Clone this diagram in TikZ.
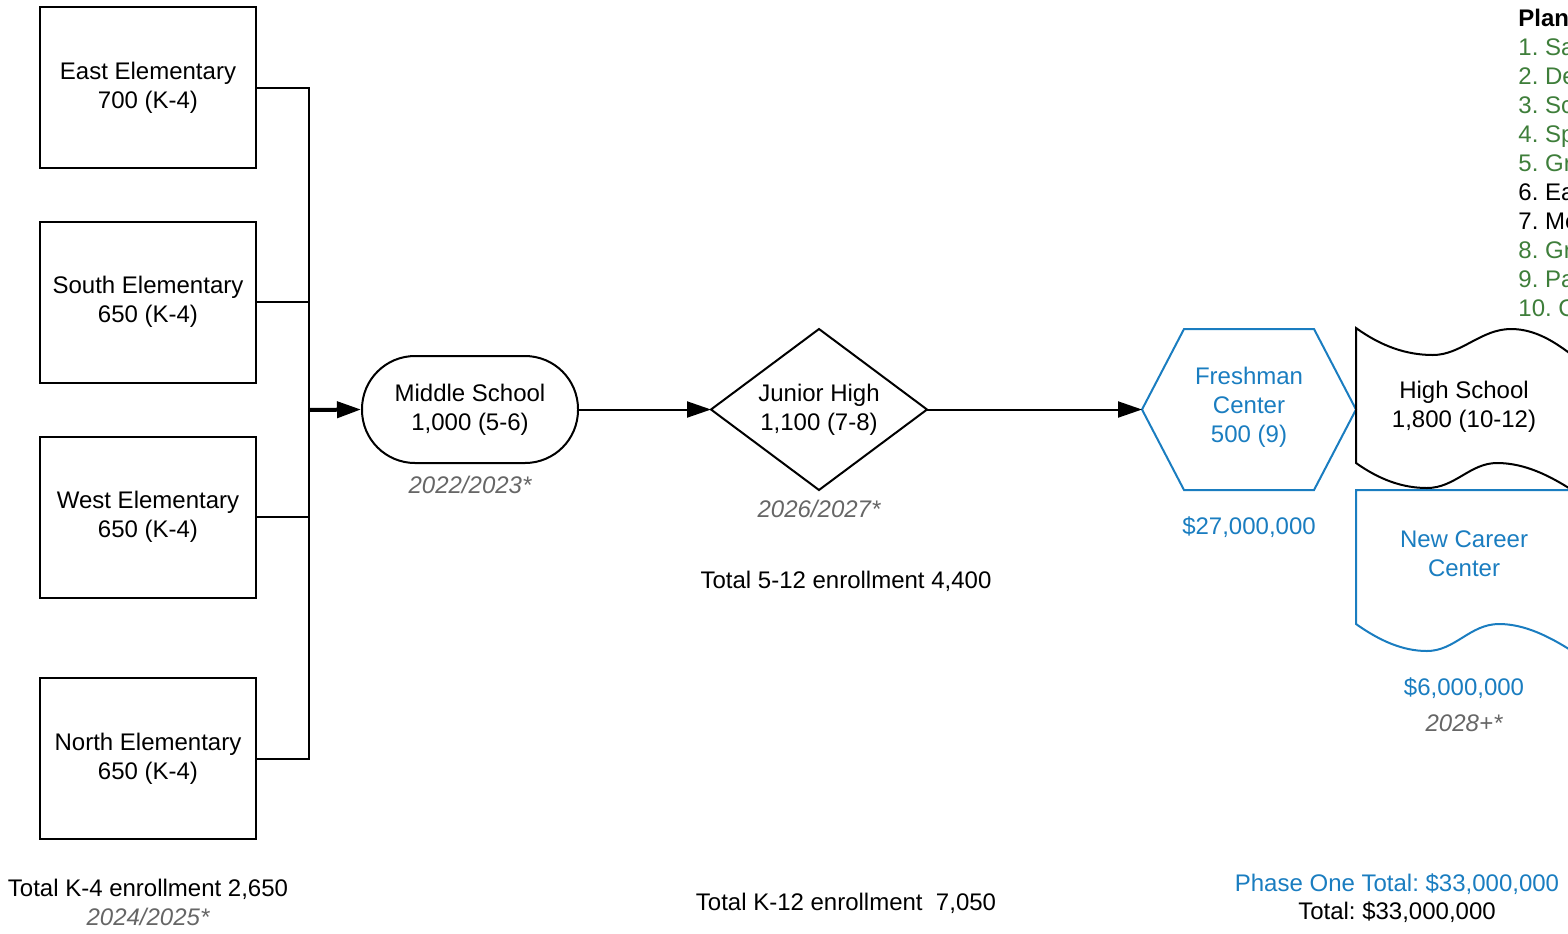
\documentclass[tikz,border=0pt]{standalone}
\usepackage{fontspec}
\setmainfont{Liberation Sans}
\usetikzlibrary{arrows.meta}
\definecolor{lblue}{HTML}{1A7DC0}
\definecolor{lgreen}{HTML}{3E7E3A}
\definecolor{lgray}{HTML}{666666}
\frenchspacing
\begin{document}
\begin{tikzpicture}[x=0.5pt,y=-0.5pt,
  txt/.style={font=\fontsize{12}{14.5}\selectfont, align=center, inner sep=0pt},
  box/.style={txt, draw, line width=1pt, minimum width=108pt, minimum height=80.5pt},
  conn/.style={line width=1pt, -{Triangle[length=12pt,width=8pt]}},
  plain/.style={line width=1pt},
  note/.style={txt, text=lgray, font=\fontsize{12}{14.5}\selectfont\itshape},
  bluetxt/.style={txt, text=lblue},
  legend/.style={font=\fontsize{12}{14.5}\selectfont, anchor=base west, inner sep=0pt}
]
\useasboundingbox (0,0) rectangle (1568,933);
\clip (0,0) rectangle (1568,933);

% elementary schools
\node[box] (east)  at (148,87.5)  {East Elementary\\700 (K-4)};
\node[box] (south) at (148,302)   {South Elementary\\650 (K-4)};
\node[box] (west)  at (148,517)   {West Elementary\\650 (K-4)};
\node[box] (north) at (148,758.5) {North Elementary\\650 (K-4)};
\coordinate (j) at (309,410);

% middle school
\node[txt, draw, line width=1pt, rectangle, rounded corners=26.5pt,
      minimum width=108pt, minimum height=53.5pt] (ms) at (470,409.5) {Middle School\\1,000 (5-6)};

\draw[plain] (east.east) -| (j);
\draw[plain] (south.east) -| (j);
\draw[plain] (west.east) -| (j);
\draw[plain] (north.east) -| (j);
\draw[conn, line width=2pt] (j) -- (ms.west);

% junior high diamond
\coordinate (jhW) at (711,409.5);
\coordinate (jhN) at (819,329);
\coordinate (jhE) at (927,409.5);
\coordinate (jhS) at (819,490);
\draw[plain] (jhW) -- (jhN) -- (jhE) -- (jhS) -- cycle;
\node[txt] (jh) at (819,409.5) {Junior High\\1,100 (7-8)};
\draw[conn] (ms.east) -- (jhW);

% freshman center hexagon
\coordinate (fcW) at (1142,409.5);
\draw[plain, draw=lblue] (fcW) -- (1184,329) -- (1314,329) -- (1356,409.5) -- (1314,490) -- (1184,490) -- cycle;
\node[bluetxt] (fc) at (1249,407) {Freshman\\Center\\500 (9)};
\draw[conn] (jhE) -- (fcW);

% career center
\draw[plain, draw=lblue] (1356,490) -- (1572,490) -- (1572,651)
  .. controls (1550,637) and (1525,624) .. (1499,624)
  .. controls (1470,624) and (1455,651) .. (1427,651)
  .. controls (1403,651) and (1380,641) .. (1356,624) -- cycle;
\node[bluetxt] (cc) at (1464,554) {New Career\\Center};

% high school
\draw[plain] (1356,328)
  .. controls (1381,346) and (1406,355) .. (1433,355)
  .. controls (1461,355) and (1481,329) .. (1511,329)
  .. controls (1536,329) and (1556,343) .. (1572,355)
  -- (1572,490)
  .. controls (1550,476) and (1525,463) .. (1497,463)
  .. controls (1470,463) and (1455,488) .. (1427,488)
  .. controls (1403,488) and (1380,480) .. (1356,463) -- cycle;
\node[txt] (hs) at (1464,407) {High School\\1,800 (10-12)};

% labels
\node[note] (d1) at (470,485) {2022/2023*};
\node[note] (d2) at (819,509) {2026/2027*};
\node[bluetxt] (c1) at (1249,527) {\$27,000,000};
\node[txt] (t512) at (846,581) {Total 5-12 enrollment 4,400};
\node[bluetxt] (c2) at (1464,688) {\$6,000,000};
\node[note] (d3) at (1464,723) {2028+*};
\node[txt] (tk4) at (148,889) {Total K-4 enrollment 2,650};
\node[note] (d4) at (148,917) {2024/2025*};
\node[txt] (tk12) at (846,903) {Total K-12 enrollment~ 7,050};
\node[bluetxt] (p1) at (1397,884) {Phase One Total: \$33,000,000};
\node[txt] (tot) at (1397,912) {Total: \$33,000,000};

% plan legend (cut off at the right edge)
\node[legend, font=\fontsize{12}{14.5}\selectfont\bfseries] (plan) at (1518,26.5) {Plan};
\node[legend, text=lgreen] (l1) at (1518,55.5) {1. Sa};
\node[legend, text=lgreen] (l2) at (1518,84.5) {2. De};
\node[legend, text=lgreen] (l3) at (1518,113.5) {3. Sc};
\node[legend, text=lgreen] (l4) at (1518,142.5) {4. Sp};
\node[legend, text=lgreen] (l5) at (1518,171.5) {5. Gr};
\node[legend] (l6) at (1518,200.5) {6. Ea};
\node[legend] (l7) at (1518,229.5) {7. Me};
\node[legend, text=lgreen] (l8) at (1518,258.5) {8. Gr};
\node[legend, text=lgreen] (l9) at (1518,287.5) {9. Pa};
\node[legend, text=lgreen] (l10) at (1518,316.5) {10. C};
\end{tikzpicture}
\end{document}
